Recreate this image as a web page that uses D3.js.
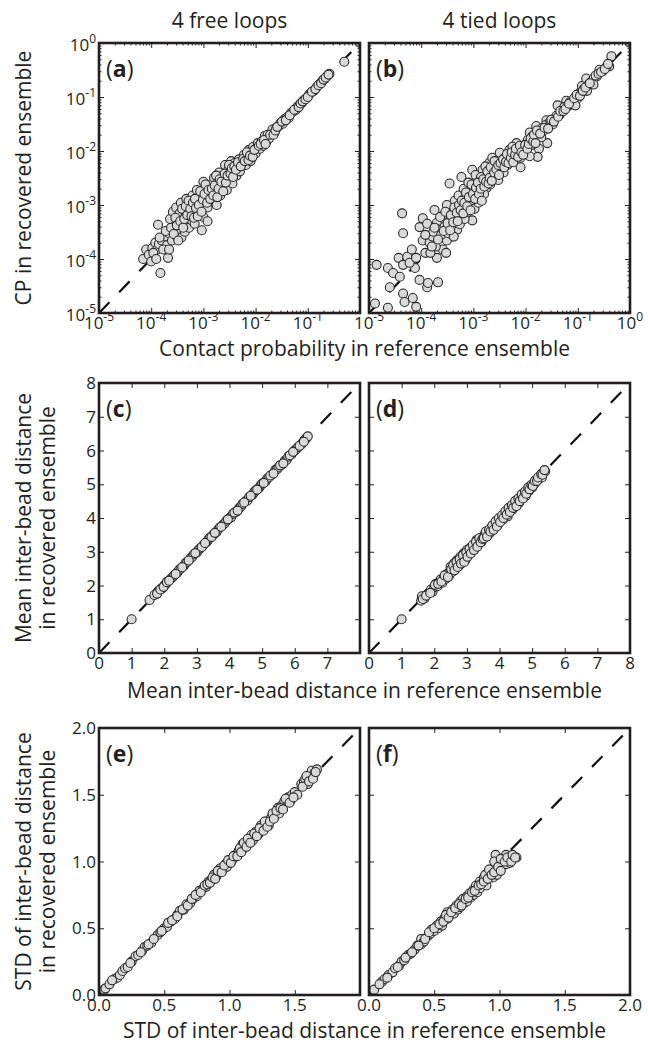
<!DOCTYPE html>
<html><head><meta charset="utf-8">
<script src="https://cdn.jsdelivr.net/npm/d3@7"></script>
<style>
body{margin:0;background:#fff}
text{font-family:"Open Sans",sans-serif;fill:#231f20}
</style>
</head><body><svg id="chart" width="648" height="1043"></svg>
<script>
// ---------------- data ----------------
const columnTitles = ["4 free loops", "4 tied loops"];
const panelLetters = [["a","b"],["c","d"],["e","f"]];
const xAxisLabels = ["Contact probability in reference ensemble",
  "Mean inter-bead distance in reference ensemble",
  "STD of inter-bead distance in reference ensemble"];
const yAxisLabels = [["CP in recovered ensemble"],
  ["Mean inter-bead distance","in recovered ensemble"],
  ["STD of inter-bead distance","in recovered ensemble"]];
const logTickExponents = [-5,-4,-3,-2,-1,0];
const meanTicks = [0,1,2,3,4,5,6,7,8];
const stdTicks = [0,0.5,1.0,1.5,2.0];

// contact probability: [reference, recovered], 4 free loops
const cpFree = [
[7e-5,1.0e-4],[8e-5,1.5e-4],[9e-5,1.2e-4],[1.0e-4,9e-5],[1.05e-4,1.6e-4],[1.2e-4,2.0e-4],
[1.35e-4,4.3e-4],[1.5e-4,5.5e-5],[1.3e-4,1.5e-4],[1.4e-4,1.9e-4],[1.6e-4,2.2e-4],[2.1e-4,1.05e-4],
[1.8e-4,2.6e-4],[2.0e-4,1.8e-4],[2.2e-4,3.0e-4],[2.3e-4,5.5e-4],[2.5e-4,2.2e-4],[2.6e-4,7.5e-4],
[2.8e-4,4.0e-4],[3.0e-4,2.7e-4],[3.0e-4,9e-4],[3.2e-4,5.5e-4],[3.4e-4,3.5e-4],[3.5e-4,7e-4],
[3.7e-4,1.1e-3],[3.8e-4,2.5e-4],[4.0e-4,4.5e-4],[4.2e-4,8e-4],[4.4e-4,3.2e-4],[4.5e-4,6e-4],
[4.7e-4,1.3e-3],[5.0e-4,5e-4],[5.0e-4,9e-4],[5.3e-4,3.8e-4],[5.5e-4,7e-4],[5.7e-4,1.1e-3],
[6.0e-4,5.2e-4],[6.2e-4,1.5e-3],[6.5e-4,8e-4],[6.8e-4,4.5e-4],[7.0e-4,1.0e-3],[7.3e-4,6.5e-4],
[7.5e-4,1.9e-3],[8.0e-4,1.2e-3],[9.3e-4,3.4e-4],[8.5e-4,8e-4],[9.0e-4,1.5e-3],[9.5e-4,1.0e-3],
[1.0e-3,2.7e-3],[1.0e-3,6e-4],[1.1e-3,1.3e-3],[1.15e-3,2.0e-3],[1.2e-3,9e-4],[1.3e-3,1.6e-3],
[1.2e-3,5e-4],[1.4e-3,2.4e-3],[1.5e-3,1.2e-3],[1.6e-3,3.2e-3],[1.7e-3,1.8e-3],[1.8e-3,1.0e-3],
[1.9e-3,2.6e-3],[2.0e-3,4.0e-3],[2.1e-3,1.5e-3],[2.3e-3,2.2e-3],[2.5e-3,3.0e-3],[2.6e-3,5.5e-3],
[2.8e-3,1.9e-3],[3.0e-3,4.5e-3],[3.2e-3,3.0e-3],[3.4e-3,6.5e-3],[3.6e-3,2.5e-3],[3.8e-3,4.2e-3],
[4.0e-3,6.0e-3],[4.3e-3,3.5e-3],[4.5e-3,5.0e-3],[4.8e-3,7.0e-3],[5.0e-3,4.2e-3],[5.5e-3,6.0e-3],
[6.0e-3,8.5e-3],[6.5e-3,5.5e-3],[7.0e-3,7.5e-3],[7.5e-3,1.05e-2],[8.0e-3,6.5e-3],[8.5e-3,9.0e-3],
[9.0e-3,1.2e-2],[1.0e-2,9.0e-3],[1.05e-2,1.15e-2],[1.1e-2,1.4e-2],[1.2e-2,1.1e-2],[1.3e-2,1.5e-2],
[1.4e-2,1.25e-2],[1.5e-2,1.9e-2],[1.6e-2,1.5e-2],[1.7e-2,2.0e-2],[1.8e-2,1.7e-2],[2.0e-2,2.1e-2],
[2.1e-2,2.5e-2],[2.3e-2,2.2e-2],[2.5e-2,2.7e-2],[2.8e-2,2.9e-2],[3.0e-2,3.3e-2],[3.3e-2,3.2e-2],
[3.6e-2,3.9e-2],[4.0e-2,4.2e-2],[4.3e-2,4.1e-2],[4.7e-2,5.0e-2],[5.2e-2,5.4e-2],[5.8e-2,5.7e-2],
[6.3e-2,6.6e-2],[7.0e-2,7.2e-2],[7.7e-2,7.8e-2],[8.5e-2,8.8e-2],[9.5e-2,9.6e-2],[0.105,0.11],
[0.115,0.12],[0.13,0.13],[0.15,0.155],[0.17,0.175],[0.19,0.2],[0.21,0.215],[0.24,0.25],
[0.26,0.27],[0.5,0.45],[1.0,1.0],
[1.1e-4,1.3e-4],[1.25e-4,1.0e-4],[1.45e-4,2.5e-4],[1.7e-4,1.5e-4],[1.9e-4,3.3e-4],[2.2e-4,1.5e-4],
[2.4e-4,3.8e-4],[2.7e-4,2.9e-4],[2.9e-4,5.8e-4],[3.1e-4,4.2e-4],[3.3e-4,2.2e-4],[3.6e-4,5e-4],
[3.9e-4,8.5e-4],[4.1e-4,3.8e-4],[4.3e-4,5.5e-4],[4.6e-4,9.5e-4],[4.9e-4,6.5e-4],[5.2e-4,1.2e-3],
[5.6e-4,8.5e-4],[5.9e-4,6.2e-4],[6.3e-4,1.1e-3],[6.6e-4,5.8e-4],[6.9e-4,1.3e-3],[7.2e-4,8.8e-4],
[7.8e-4,6.2e-4],[8.2e-4,1.0e-3],[8.7e-4,1.8e-3],[9.2e-4,7.5e-4],[9.8e-4,1.25e-3],[1.05e-3,1.6e-3],
[1.1e-3,2.4e-3],[1.18e-3,1.1e-3],[1.25e-3,1.9e-3],[1.35e-3,1.3e-3],[1.45e-3,2.0e-3],[1.55e-3,1.5e-3],
[1.65e-3,2.3e-3],[1.75e-3,3.5e-3],[1.85e-3,1.4e-3],[1.95e-3,2.0e-3],[2.05e-3,3.0e-3],[2.2e-3,2.7e-3],
[2.4e-3,1.8e-3],[2.55e-3,3.8e-3],[2.7e-3,2.6e-3],[2.9e-3,3.5e-3],[3.1e-3,5.5e-3],[3.3e-3,3.8e-3],
[3.5e-3,4.8e-3],[3.7e-3,3.3e-3],[3.9e-3,5.2e-3],[4.2e-3,4.5e-3],[4.6e-3,6.2e-3],[5.2e-3,5.2e-3],
[5.8e-3,7.2e-3],[6.2e-3,6.5e-3],[6.8e-3,9.5e-3],[7.3e-3,6.8e-3],[7.8e-3,8.2e-3],[8.8e-3,7.8e-3],
[9.5e-3,1.05e-2],[1.15e-2,1.25e-2],[1.25e-2,1.35e-2],[1.45e-2,1.6e-2],[1.55e-2,1.35e-2],[1.9e-2,2.0e-2],
[2.2e-2,2.0e-2],[2.4e-2,2.4e-2],[2.6e-2,2.8e-2],[3.2e-2,3.5e-2],[3.8e-2,3.7e-2],[4.5e-2,4.6e-2],
[5.5e-2,5.8e-2],[6.7e-2,6.5e-2],[7.3e-2,7.6e-2],[8e-2,8.3e-2],[9e-2,9.1e-2],[0.1,0.1],
[0.12,0.125],[0.14,0.14],[0.16,0.165],[0.18,0.18],[0.2,0.21],[0.22,0.23],[0.25,0.26]
];

// contact probability: [reference, recovered], 4 tied loops
const cpTied = [
[1.3e-5,1.5e-5],[2.3e-5,1.25e-5],[1.4e-5,7.8e-5],[2.3e-5,6.8e-5],[2.9e-5,5.5e-5],[2.5e-5,3e-5],
[4.5e-5,2.3e-5],[4.8e-5,1.6e-5],[6.9e-5,1.9e-5],[8e-5,1.3e-5],[3.9e-5,4.7e-5],[9.3e-5,4.1e-5],
[1.3e-4,3e-5],[1.35e-4,3.6e-5],[2.1e-4,3.7e-5],[7.6e-5,6.8e-5],
[4.5e-5,3e-4],[4.3e-5,7e-4],[3.7e-5,1.05e-4],[4.5e-5,7.8e-5],[5.4e-5,1.1e-4],[6.6e-5,1.5e-4],
[6e-5,8.5e-5],[8e-5,1.05e-4],[1.07e-4,2.2e-4],[1.2e-4,1.3e-4],[1.45e-4,2e-4],[1.65e-4,2.6e-4],
[9.3e-5,3.9e-4],[1.07e-4,5.7e-4],[1.8e-4,8.1e-4],[2e-4,4.7e-4],[2.2e-4,3.5e-4],[2.6e-4,1.5e-4],
[2e-4,1.05e-4],[3.1e-4,2.2e-4],[3.5e-4,5.2e-4],[4e-4,8.1e-4],[3.1e-4,1e-3],[4.9e-4,3.5e-4],
[5.9e-4,6.5e-4],[5.9e-4,3.3e-3],[7.4e-4,1.1e-3],[8.5e-4,1.9e-3],[9.5e-4,5.2e-4],[1.15e-3,2.9e-3],
[1.3e-3,1.4e-3],[1.5e-3,4.5e-3],[1.8e-3,2.1e-3],[2e-3,6e-3],[9.5e-4,4.5e-3],[3.5e-4,2.5e-3],
[1.5e-4,1.3e-4],[1.7e-4,3.2e-4],[1.9e-4,1.7e-4],[2.4e-4,2.8e-4],[2.5e-4,6.2e-4],[2.8e-4,4e-4],
[3e-4,1.3e-4],[3.3e-4,3e-4],[3.8e-4,4.2e-4],[4.2e-4,2.6e-4],[4.4e-4,1.2e-3],[4.6e-4,6e-4],
[5.2e-4,1.5e-3],[5.5e-4,4.4e-4],[6.2e-4,9e-4],[6.5e-4,2e-3],[6.8e-4,5.5e-4],[7e-4,1.4e-3],
[7.8e-4,7.5e-4],[8e-4,2.6e-3],[9e-4,1.2e-3],[1e-3,2.2e-3],[1.05e-3,8.5e-4],[1.1e-3,3.6e-3],
[1.2e-3,1.8e-3],[1.25e-3,1.1e-3],[1.35e-3,2.5e-3],[1.4e-3,3.3e-3],[1.6e-3,1.6e-3],[1.65e-3,2.8e-3],
[1.7e-3,5.2e-3],[1.9e-3,3.5e-3],[2.1e-3,2.4e-3],[2.2e-3,4.2e-3],[2.3e-3,7.5e-3],[2.4e-3,3e-3],
[2.6e-3,5.5e-3],[2.7e-3,3.8e-3],[2.9e-3,6.5e-3],[3e-3,2.9e-3],[3.2e-3,4.8e-3],[3.4e-3,8.5e-3],
[3.6e-3,6e-3],[3.8e-3,4e-3],[2.8e-3,6.6e-3],[3.2e-3,9.3e-3],[3.5e-3,5.3e-3],[4e-3,7.5e-3],
[4.9e-3,1.05e-2],[5.6e-3,8.1e-3],[6.7e-3,1.4e-2],[7.6e-3,1.05e-2],[8.8e-3,1.2e-2],[1.05e-2,1.4e-2],
[1.8e-2,1.1e-2],[1.2e-2,2.2e-2],[1.35e-2,1.9e-2],[1.6e-2,2.9e-2],[1.8e-2,2.2e-2],[2.1e-2,2.7e-2],
[2.5e-2,3.7e-2],[2.8e-2,3.3e-2],[4.1e-2,7e-2],[4.4e-2,4.6e-2],[5.1e-2,5.8e-2],[6e-2,8.5e-2],
[8e-2,8.5e-2],[0.107,0.118],[0.12,0.16],[0.145,0.22],[0.23,0.24],[0.26,0.32],[0.4,0.37],[0.44,0.57],
[5.6e-3,1.2e-2],[1.7e-2,7.8e-3],[2.6e-2,1.4e-2],
[4.5e-3,5.5e-3],[5e-3,6.5e-3],[6e-3,7e-3],[7e-3,9e-3],[8e-3,7.5e-3],[9.5e-3,1e-2],[1e-2,1.2e-2],
[1.1e-2,1.6e-2],[1.3e-2,1.3e-2],[1.5e-2,1.7e-2],[1.7e-2,2e-2],[2e-2,1.8e-2],[2.2e-2,2.4e-2],
[2.4e-2,3e-2],[3e-2,3.5e-2],[3.3e-2,3.1e-2],[3.6e-2,4e-2],[3.9e-2,4.5e-2],[4.7e-2,5e-2],
[5.5e-2,6.5e-2],[6.5e-2,6.8e-2],[7e-2,8e-2],[7.5e-2,7.3e-2],[9e-2,0.1],[0.1,0.095],[0.13,0.14],
[0.16,0.17],[0.18,0.19],[0.2,0.22],[0.3,0.3],[0.35,0.36],[0.09,0.07],[0.15,0.13],[0.2,0.17],
[1.2e-2,8e-3],[8e-3,5e-3],[1.0,1.0],
[1.2e-4,2.8e-4],[1.3e-4,4.5e-4],[1.6e-4,1.7e-4],[1.8e-4,3.8e-4],[2.1e-4,2.3e-4],[2.3e-4,6e-4],
[2.7e-4,3.3e-4],[2.9e-4,7.5e-4],[3.2e-4,4.6e-4],[3.6e-4,3.4e-4],[3.7e-4,6.5e-4],[4.1e-4,4.8e-4],
[4.3e-4,9e-4],[4.8e-4,7.2e-4],[5e-4,5e-4],[5.3e-4,1.0e-3],[5.7e-4,8e-4],[6e-4,1.2e-3],
[6.4e-4,7e-4],[6.7e-4,1.1e-3],[7.2e-4,1.7e-3],[7.6e-4,9.5e-4],[8.2e-4,1.4e-3],[8.8e-4,8e-4],
[9.2e-4,2.4e-3],[9.8e-4,1.6e-3],[1.08e-3,1.3e-3],[1.12e-3,2.1e-3],[1.22e-3,2.6e-3],[1.28e-3,1.6e-3],
[1.38e-3,2e-3],[1.45e-3,1.2e-3],[1.55e-3,3e-3],[1.62e-3,2.2e-3],[1.75e-3,2.7e-3],[1.85e-3,4.2e-3],
[1.95e-3,2.5e-3],[2.05e-3,3.2e-3],[2.15e-3,5e-3],[2.25e-3,2.8e-3],[2.5e-3,4e-3],[2.55e-3,6.5e-3],
[2.75e-3,4.6e-3],[3e-3,5.5e-3],[3.1e-3,3.6e-3],[3.3e-3,6e-3],[3.7e-3,7e-3],[3.9e-3,5e-3],
[4.2e-3,6.3e-3],[4.4e-3,8.8e-3],[4.7e-3,6e-3],[5.2e-3,7.5e-3],[5.4e-3,9.5e-3],[5.8e-3,6.2e-3],
[6.3e-3,8.5e-3],[6.5e-3,1.1e-2],[7.2e-3,7.8e-3],[7.8e-3,1.25e-2],[8.3e-3,9.5e-3],[9e-3,8.5e-3],
[9.8e-3,1.3e-2],[1.08e-2,1.1e-2],[1.15e-2,1.35e-2],[1.25e-2,1.7e-2],[1.4e-2,1.5e-2],[1.45e-2,2e-2],
[1.55e-2,1.4e-2],[1.65e-2,2.4e-2],[1.9e-2,2.1e-2],[2.3e-2,2.7e-2],[2.7e-2,2.6e-2],[3.1e-2,3.8e-2],
[3.5e-2,3.5e-2],[4.2e-2,4.3e-2],[4.6e-2,5.5e-2],[5.3e-2,5.5e-2],[5.8e-2,6e-2],[6.8e-2,7.5e-2],
[8.5e-2,9.5e-2],[9.5e-2,0.11],[0.11,0.105],[0.125,0.13],[0.14,0.15],[0.17,0.18],[0.22,0.25],
[0.25,0.27],[0.28,0.29],[0.33,0.33],[0.38,0.41]
];

// mean inter-bead distance: [reference, recovered]
const meanFree = [
[1.0,1.0],[1.55,1.57],[1.75,1.74],[1.8,1.82],[1.85,1.86],[1.9,1.9],[1.95,1.93],[2.0,2.0],[2.05,2.04],
[2.1,2.12],[2.2,2.2],[2.25,2.24],[2.3,2.3],[2.4,2.38],[2.45,2.46],[2.5,2.5],[2.6,2.58],[2.65,2.66],
[2.7,2.7],[2.8,2.8],[2.85,2.84],[2.9,2.92],[3.0,2.98],[3.05,3.06],[3.1,3.1],[3.2,3.2],[3.3,3.28],
[3.35,3.36],[3.4,3.42],[3.5,3.5],[3.6,3.58],[3.65,3.66],[3.7,3.72],[3.8,3.8],[3.85,3.84],[3.9,3.92],
[4.0,4.0],[4.05,4.02],[4.1,4.12],[4.2,4.18],[4.3,4.3],[4.35,4.34],[4.4,4.42],[4.5,4.5],[4.55,4.52],
[4.6,4.62],[4.7,4.68],[4.75,4.76],[4.8,4.82],[4.9,4.88],[4.95,4.96],[5.0,5.02],[5.1,5.08],[5.15,5.16],
[5.2,5.2],[5.3,5.28],[5.4,5.42],[5.45,5.44],[5.5,5.5],[5.6,5.58],[5.7,5.7],[5.75,5.72],[5.8,5.82],
[5.9,5.88],[6.0,6.0],[6.05,6.04],[6.1,6.1],[6.2,6.18],[6.25,6.24],[6.3,6.32],[6.35,6.36],[6.4,6.42],
[1.7,1.72],[1.78,1.76],[1.88,1.88],[1.98,1.96],[2.08,2.1],[2.15,2.14],[2.35,2.34],[2.55,2.54],
[2.75,2.74],[2.95,2.96],[3.15,3.14],[3.25,3.26],[3.45,3.44],[3.55,3.56],[3.75,3.74],[3.95,3.96],
[4.15,4.16],[4.25,4.22],[4.45,4.46],[4.65,4.66],[4.85,4.84],[5.05,5.04],[5.25,5.26],[5.35,5.32],
[5.55,5.56],[5.65,5.62],[5.85,5.86],[5.95,5.96],[6.15,6.14],[6.28,6.26]
];
const meanTied = [
[1.0,1.0],[1.6,1.55],[1.62,1.68],[1.7,1.62],[1.8,1.75],[1.85,1.8],[1.9,1.88],[1.95,1.82],[2.0,1.95],
[2.05,2.05],[2.1,1.98],[2.15,2.1],[2.2,2.18],[2.25,2.08],[2.3,2.25],[2.35,2.2],[2.4,2.35],[2.45,2.28],
[2.5,2.45],[2.5,2.55],[2.55,2.4],[2.6,2.52],[2.6,2.65],[2.65,2.5],[2.7,2.62],[2.7,2.75],[2.75,2.58],
[2.8,2.7],[2.8,2.85],[2.85,2.72],[2.9,2.8],[2.9,2.95],[2.95,2.75],[3.0,2.9],[3.0,3.05],[3.05,2.92],
[3.1,3.0],[3.1,3.12],[3.15,3.05],[3.2,3.15],[3.25,3.1],[3.3,3.25],[3.3,3.35],[3.35,3.22],[3.4,3.35],
[3.45,3.3],[3.5,3.45],[3.55,3.52],[3.6,3.5],[3.65,3.6],[3.7,3.55],[3.75,3.72],[3.8,3.7],[3.85,3.8],
[3.9,3.85],[3.95,3.8],[4.0,3.95],[4.05,4.0],[4.1,3.95],[4.15,4.1],[4.2,4.15],[4.25,4.05],[4.3,4.25],
[4.35,4.3],[4.4,4.25],[4.45,4.42],[4.5,4.4],[4.55,4.5],[4.6,4.45],[4.65,4.6],[4.7,4.62],[4.75,4.7],
[4.8,4.65],[4.85,4.82],[4.9,4.8],[4.95,4.95],[5.0,4.9],[5.05,5.0],[5.1,5.05],[5.2,5.15],[5.25,5.25],
[5.3,5.2],[5.35,5.35],[5.4,5.38],
[1.65,1.6],[1.75,1.7],[1.88,1.78],[2.02,2.02],[2.12,2.05],[2.22,2.12],[2.32,2.3],[2.42,2.25],
[2.52,2.48],[2.58,2.6],[2.62,2.45],[2.68,2.7],[2.72,2.55],[2.78,2.78],[2.82,2.65],[2.88,2.9],
[2.92,2.7],[2.98,2.98],[3.02,2.85],[3.08,3.08],[3.12,2.95],[3.18,3.2],[3.22,3.05],[3.28,3.3],
[3.32,3.15],[3.38,3.4],[3.42,3.28],[3.48,3.38],[3.52,3.4],[3.58,3.6],[3.62,3.45],[3.68,3.65],
[3.72,3.6],[3.78,3.78],[3.82,3.65],[3.88,3.9],[3.92,3.75],[3.98,4.0],[4.02,3.88],[4.08,4.08],
[4.12,4.0],[4.18,4.2],[4.22,4.1],[4.28,4.3],[4.32,4.18],[4.38,4.38],[4.42,4.3],[4.48,4.5],
[4.52,4.35],[4.58,4.58],[4.62,4.5],[4.68,4.7],[4.72,4.58],[4.78,4.78],[4.82,4.72],[4.88,4.9],
[4.92,4.85],[4.98,4.98],[5.02,4.95],[5.08,5.1],[5.15,5.1],[5.18,5.2],[5.28,5.3],[5.32,5.28],[5.38,5.42]
];

// STD of inter-bead distance: [reference, recovered]
const stdFree = [
[0.04,0.04],[0.05,0.05],[0.12,0.12],[0.14,0.13],[0.16,0.15],[0.18,0.18],[0.2,0.2],[0.22,0.21],
[0.25,0.25],[0.28,0.29],[0.3,0.3],[0.33,0.33],[0.35,0.36],[0.37,0.37],[0.4,0.39],[0.45,0.45],
[0.47,0.47],[0.5,0.5],[0.52,0.51],[0.55,0.55],[0.58,0.57],[0.6,0.6],[0.62,0.63],[0.65,0.64],
[0.67,0.68],[0.7,0.69],[0.72,0.72],[0.75,0.74],[0.77,0.78],[0.8,0.8],[0.82,0.81],[0.84,0.85],
[0.86,0.86],[0.88,0.9],[0.9,0.89],[0.92,0.92],[0.93,0.95],[0.95,0.94],[0.97,0.98],[0.98,0.96],
[1.0,1.0],[1.02,1.01],[1.05,1.05],[1.07,1.08],[1.1,1.09],[1.1,1.13],[1.12,1.12],[1.15,1.15],
[1.17,1.2],[1.18,1.16],[1.2,1.22],[1.22,1.2],[1.24,1.27],[1.25,1.24],[1.27,1.28],[1.28,1.3],
[1.3,1.27],[1.32,1.33],[1.35,1.35],[1.37,1.4],[1.38,1.36],[1.4,1.42],[1.42,1.45],[1.44,1.46],
[1.45,1.48],[1.47,1.46],[1.48,1.5],[1.5,1.52],[1.52,1.5],[1.55,1.58],[1.57,1.6],[1.58,1.62],
[1.6,1.58],[1.62,1.64],[1.63,1.68],[1.65,1.66],[1.67,1.69],
[0.08,0.08],[0.1,0.11],[0.24,0.24],[0.32,0.32],[0.38,0.38],[0.42,0.42],[0.48,0.48],[0.53,0.54],
[0.56,0.56],[0.6,0.59],[0.64,0.64],[0.68,0.67],[0.71,0.72],[0.74,0.75],[0.78,0.77],[0.81,0.82],
[0.83,0.83],[0.85,0.84],[0.87,0.88],[0.89,0.87],[0.91,0.93],[0.94,0.92],[0.96,0.97],[0.99,1.01],
[1.01,0.99],[1.03,1.04],[1.06,1.04],[1.08,1.1],[1.09,1.07],[1.11,1.14],[1.13,1.11],[1.14,1.17],
[1.16,1.14],[1.19,1.21],[1.21,1.19],[1.23,1.25],[1.26,1.23],[1.27,1.3],[1.29,1.26],[1.31,1.3],
[1.33,1.36],[1.34,1.32],[1.36,1.38],[1.39,1.4],[1.41,1.39],[1.43,1.47],[1.46,1.44],[1.49,1.48],
[1.56,1.56],[1.59,1.64],[1.61,1.6],[1.64,1.62],[1.66,1.67]
];
const stdTied = [
[0.04,0.04],[0.1,0.1],[0.12,0.12],[0.15,0.15],[0.18,0.17],[0.2,0.2],[0.23,0.22],[0.25,0.25],
[0.27,0.26],[0.3,0.3],[0.32,0.31],[0.35,0.34],[0.37,0.37],[0.4,0.38],[0.4,0.42],[0.42,0.4],
[0.45,0.44],[0.47,0.46],[0.48,0.49],[0.5,0.48],[0.52,0.52],[0.53,0.5],[0.55,0.55],[0.56,0.52],
[0.58,0.58],[0.6,0.57],[0.6,0.62],[0.62,0.6],[0.64,0.64],[0.65,0.61],[0.67,0.67],[0.68,0.64],
[0.7,0.7],[0.7,0.66],[0.72,0.72],[0.73,0.69],[0.75,0.74],[0.75,0.7],[0.77,0.76],[0.78,0.73],
[0.8,0.79],[0.8,0.75],[0.82,0.82],[0.83,0.77],[0.85,0.85],[0.85,0.8],[0.87,0.84],[0.88,0.88],
[0.9,0.86],[0.9,0.82],[0.92,0.9],[0.93,0.94],[0.95,0.88],[0.95,0.93],[0.97,0.97],[0.97,1.05],
[0.98,0.9],[1.0,0.95],[1.0,1.0],[1.02,0.97],[1.03,1.02],[1.05,0.98],[1.05,1.05],[1.07,1.02],
[1.08,0.99],[1.1,1.03],[1.13,1.03],
[0.08,0.08],[0.14,0.13],[0.22,0.21],[0.28,0.28],[0.33,0.32],[0.38,0.37],[0.43,0.42],[0.46,0.47],
[0.5,0.5],[0.54,0.53],[0.57,0.55],[0.59,0.6],[0.61,0.58],[0.63,0.62],[0.66,0.65],[0.69,0.68],
[0.71,0.67],[0.74,0.72],[0.76,0.73],[0.79,0.77],[0.81,0.78],[0.84,0.82],[0.86,0.83],[0.88,0.85],
[0.89,0.9],[0.91,0.87],[0.92,0.94],[0.94,0.9],[0.96,0.92],[0.96,1.0],[0.99,0.96],[1.01,0.93],
[1.01,1.02],[1.04,1.0],[1.06,1.03],[1.09,1.0],[1.1,1.05],[1.12,1.03]
];

// ---------------- layout ----------------
const svg = d3.select("#chart");
const ink = "#231f20";
const colLeft = [99, 369], panelW = 261;
const tickFont = 17, supFont = 12, labelFont = 21;
const rows = [
  {top:43, h:270, type:"log", domain:[1e-5,1], data:[cpFree, cpTied], xLabelDy:43},
  {top:383, h:270, type:"lin", domain:[0,8], ticks:meanTicks, fmt:d=>String(d), data:[meanFree, meanTied], xLabelDy:45},
  {top:728, h:267, type:"lin", domain:[0,2], ticks:stdTicks, fmt:d3.format(".1f"), data:[stdFree, stdTied], xLabelDy:43}
];

// column titles
columnTitles.forEach((t,i)=>{
  svg.append("text").attr("x", colLeft[i]+panelW/2).attr("y", 28)
    .attr("text-anchor","middle").attr("font-size",labelFont).text(t);
});

function logLabel(sel, exp){
  sel.append("tspan").text("10");
  sel.append("tspan").attr("font-size",supFont).attr("dy",-8).text(exp===0?"0":"-"+Math.abs(exp));
}

rows.forEach((row, ri)=>{
  const top=row.top, bottom=row.top+row.h;
  row.data.forEach((pts, ci)=>{
    const left=colLeft[ci], right=left+panelW;
    const x = row.type==="log" ? d3.scaleLog().domain(row.domain).range([left,right])
                               : d3.scaleLinear().domain(row.domain).range([left,right]);
    const y = row.type==="log" ? d3.scaleLog().domain(row.domain).range([bottom,top])
                               : d3.scaleLinear().domain(row.domain).range([bottom,top]);
    const g = svg.append("g");
    const clipId = "clip"+ri+ci;
    g.append("clipPath").attr("id",clipId).append("rect")
      .attr("x",left).attr("y",top).attr("width",panelW).attr("height",row.h);

    // diagonal dashed line
    g.append("line").attr("clip-path",`url(#${clipId})`)
      .attr("x1",x(row.domain[0])).attr("y1",y(row.domain[0]))
      .attr("x2",x(row.domain[1])).attr("y2",y(row.domain[1]))
      .attr("stroke","#111").attr("stroke-width",2.2).attr("stroke-dasharray","15,14");

    // points
    g.append("g").attr("clip-path",`url(#${clipId})`).selectAll("circle").data(pts).join("circle")
      .attr("cx",d=>x(d[0])).attr("cy",d=>y(d[1])).attr("r",4.5)
      .attr("fill","#d9d9d9").attr("stroke","#2a2a2a").attr("stroke-width",1.1);

    // ticks
    const majors = row.type==="log" ? logTickExponents.map(e=>Math.pow(10,e)) : row.ticks;
    const minors = [];
    if(row.type==="log"){
      logTickExponents.slice(0,-1).forEach(e=>{ for(let k=2;k<10;k++) minors.push(k*Math.pow(10,e)); });
    }
    const addAxis = (axisFn, scale, tr, vals, size)=>{
      const a = svg.append("g").attr("transform",tr)
        .call(axisFn(scale).tickValues(vals).tickSize(size).tickFormat(""));
      a.select(".domain").remove();
      a.selectAll("line").attr("stroke",ink).attr("stroke-width",1);
    };
    [[majors,-5],[minors,-2.5]].forEach(([vals,size])=>{
      if(!vals.length) return;
      addAxis(d3.axisBottom, x, `translate(0,${bottom})`, vals, size);
      addAxis(d3.axisTop, x, `translate(0,${top})`, vals, size);
      addAxis(d3.axisLeft, y, `translate(${left},0)`, vals, size);
      addAxis(d3.axisRight, y, `translate(${right},0)`, vals, size);
    });

    // frame
    g.append("rect").attr("x",left).attr("y",top).attr("width",panelW).attr("height",row.h)
      .attr("fill","none").attr("stroke",ink).attr("stroke-width",2.6);

    // x tick labels (left column omits last)
    const xLabVals = ci===0 ? majors.slice(0,-1) : majors;
    xLabVals.forEach((v,i)=>{
      const t = svg.append("text").attr("x",x(v)).attr("y",bottom+16).attr("text-anchor","middle").attr("font-size",tickFont);
      if(row.type==="log") logLabel(t, logTickExponents[i]); else t.text(row.fmt(v));
    });
    // y tick labels only on left column
    if(ci===0){
      majors.forEach((v,i)=>{
        const t = svg.append("text").attr("x",left-3).attr("text-anchor","end").attr("font-size",tickFont);
        if(row.type==="log"){ t.attr("y",y(v)+8); logLabel(t, logTickExponents[i]); }
        else { t.attr("y",y(v)+6).text(row.fmt(v)); }
      });
    }
    // panel letter
    const pl = svg.append("text").attr("x",left+7).attr("y",top+34).attr("font-size",23);
    pl.append("tspan").text("(");
    pl.append("tspan").attr("font-weight","bold").text(panelLetters[ri][ci]);
    pl.append("tspan").text(")");
  });

  // x axis label
  svg.append("text").attr("x",(colLeft[0]+colLeft[1]+panelW)/2).attr("y",top+row.h+row.xLabelDy)
    .attr("text-anchor","middle").attr("font-size",labelFont).text(xAxisLabels[ri]);
  // y axis label
  const cy = top+row.h/2;
  const lines = yAxisLabels[ri];
  lines.forEach((l,li)=>{
    const bx = li===0 ? 31 : 55;
    svg.append("text").attr("transform",`translate(${bx},${cy}) rotate(-90)`)
      .attr("text-anchor","middle").attr("font-size",labelFont).text(l);
  });
});
</script>
</body></html>
